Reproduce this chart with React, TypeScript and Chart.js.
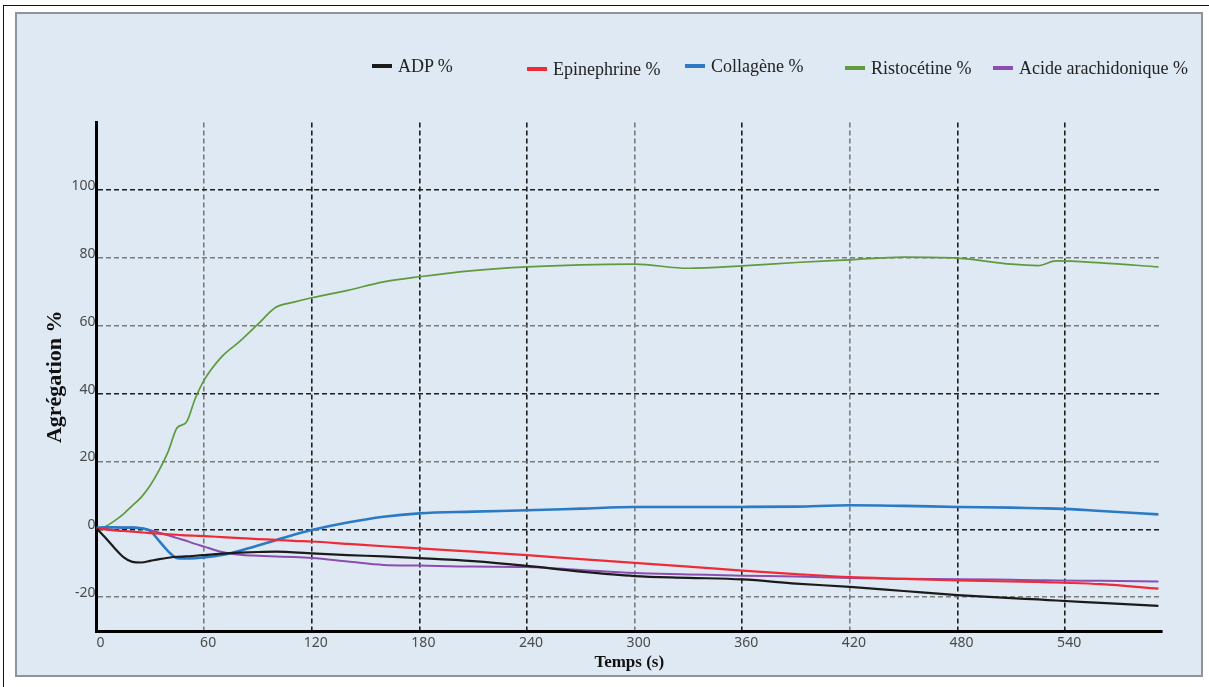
import React, { useEffect, useRef } from "react";
import { Chart, registerables } from "chart.js";

Chart.register(...registerables);

// ---- data ----
const timeS = [0, 5, 10, 15, 20, 25, 30, 35, 40, 45, 50, 55, 60, 70, 80, 90, 100, 110, 120, 140, 160, 180, 210, 240, 270, 300, 330, 360, 390, 420, 450, 480, 510, 525, 535, 560, 592];

const adpPct = [0.3, -2.5, -5.5, -8.2, -9.6, -9.8, -9.3, -8.8, -8.4, -8.1, -8.0, -7.8, -7.6, -7.2, -6.9, -6.7, -6.6, -6.8, -7.1, -7.6, -8.0, -8.5, -9.4, -10.8, -12.5, -13.8, -14.3, -14.8, -16.0, -17.0, -18.2, -19.4, -20.3, -20.7, -21.0, -21.7, -22.6];

const epinephrinePct = [0.3, 0.0, -0.3, -0.5, -0.7, -0.9, -1.1, -1.3, -1.5, -1.6, -1.8, -1.9, -2.0, -2.3, -2.6, -2.9, -3.1, -3.4, -3.6, -4.3, -5.0, -5.6, -6.6, -7.6, -8.8, -9.9, -11.0, -12.2, -13.2, -14.1, -14.6, -15.1, -15.4, -15.5, -15.7, -16.2, -17.5];

const collagenePct = [0.5, 0.6, 0.6, 0.5, 0.5, 0.3, -0.5, -3.5, -6.5, -8.5, -8.6, -8.5, -8.3, -7.6, -6.3, -4.8, -3.2, -1.6, -0.2, 2.0, 3.7, 4.7, 5.2, 5.6, 6.1, 6.6, 6.6, 6.6, 6.7, 7.1, 6.9, 6.6, 6.4, 6.2, 6.1, 5.4, 4.4];

const ristocetinePct = [0, 0.8, 2.5, 4.5, 7, 9.5, 13, 17.5, 23, 30, 31.5, 38.5, 44, 51, 55.5, 60.5, 65.5, 67, 68.3, 70.5, 73, 74.5, 76.3, 77.4, 78.0, 78.2, 77.0, 77.7, 78.7, 79.5, 80.3, 80.0, 78.2, 77.8, 79.2, 78.6, 77.4];

const acidePct = [0.3, 0.4, 0.5, 0.5, 0.5, 0.3, -0.3, -1.0, -1.8, -2.6, -3.4, -4.3, -5.1, -6.7, -7.5, -7.8, -8.0, -8.2, -8.5, -9.5, -10.5, -10.7, -11.0, -11.1, -12.0, -12.9, -13.3, -13.7, -13.9, -14.4, -14.6, -14.7, -14.9, -15.0, -15.1, -15.2, -15.4];

const seriesNames = ["ADP %", "Epinephrine %", "Collagène %", "Ristocétine %", "Acide arachidonique %"];
const seriesValues = [adpPct, epinephrinePct, collagenePct, ristocetinePct, acidePct];

const xTickValues = [0, 60, 120, 180, 240, 300, 360, 420, 480, 540];
const yTickValues = [-20, 0, 20, 40, 60, 80, 100];
const xRange = [0, 594];
const yRange = [-30, 120];

const xTitle = "Temps (s)";
const yTitle = "Agrégation %";

// ---- styles ----
const seriesColors = ["#1b1b1b", "#ee2b36", "#2b7bc4", "#5f9a3c", "#8b4eb0"];
const seriesWidths = [2.2, 2.2, 2.6, 1.7, 2];
const darkXGrid = [120, 180, 240, 360, 480, 540];
const darkYGrid = [0, 40, 100];
const legendSlots = [
  { left: 372, center: 66 },
  { left: 527, center: 69 },
  { left: 685, center: 66 },
  { left: 845, center: 68 },
  { left: 993, center: 68 },
];

export default function App() {
  const canvasRef = useRef<HTMLCanvasElement | null>(null);

  useEffect(() => {
    const canvas = canvasRef.current;
    if (!canvas) return;

    const datasets = seriesNames.map((name, si) => ({
      label: name,
      data: timeS.map((t, i) => ({ x: t, y: seriesValues[si][i] })),
      borderColor: seriesColors[si],
      backgroundColor: seriesColors[si],
      borderWidth: seriesWidths[si],
      pointRadius: 0,
      pointHoverRadius: 0,
      fill: false,
      tension: 0.4,
      cubicInterpolationMode: "monotone" as const,
    }));

    const chart = new Chart(canvas, {
      type: "line",
      data: { datasets },
      options: {
        animation: false,
        responsive: false,
        devicePixelRatio: 1,
        layout: { padding: { top: 110.5, right: 41, bottom: 0, left: 26.5 } },
        plugins: {
          legend: { display: false },
          tooltip: { enabled: false },
        },
        scales: {
          x: {
            type: "linear",
            min: xRange[0],
            max: xRange[1],
            afterBuildTicks: (axis: any) => {
              axis.ticks = xTickValues.map((v) => ({ value: v }));
            },
            afterFit: (axis: any) => {
              axis.height = 46;
            },
            grid: {
              drawTicks: false,
              lineWidth: 1.6,
              color: (ctx: any) => {
                const v = ctx.tick ? ctx.tick.value : null;
                if (v === 0) return "rgba(0,0,0,0)";
                return darkXGrid.includes(v) ? "#1e1e1e" : "#7c7c7c";
              },
            },
            border: { display: true, color: "#000", width: 3, dash: [5, 3] },
            ticks: {
              padding: 4,
              labelOffset: 4,
              color: "#4a4a4a",
              font: { family: "'Noto Sans', sans-serif", size: 14 },
              callback: (v: any) => String(v),
            },
            title: {
              display: true,
              text: xTitle,
              color: "#111",
              font: { family: "'Liberation Serif', serif", size: 17, weight: "bold" },
              padding: { top: 0, bottom: 4 },
            },
          },
          y: {
            type: "linear",
            min: yRange[0],
            max: yRange[1],
            afterBuildTicks: (axis: any) => {
              axis.ticks = yTickValues.map((v) => ({ value: v }));
            },
            afterFit: (axis: any) => {
              axis.width = 55;
            },
            grid: {
              drawTicks: false,
              lineWidth: 1.6,
              color: (ctx: any) => {
                const v = ctx.tick ? ctx.tick.value : null;
                return darkYGrid.includes(v) ? "#1e1e1e" : "#7c7c7c";
              },
            },
            border: { display: true, color: "#000", width: 3, dash: [5, 3] },
            ticks: {
              padding: 1,
              labelOffset: -4,
              color: "#4a4a4a",
              font: { family: "'Noto Sans', sans-serif", size: 14 },
              callback: (v: any) => String(v),
            },
            title: {
              display: true,
              text: yTitle,
              color: "#111",
              font: { family: "'Liberation Serif', serif", size: 22, weight: "bold" },
              padding: { top: 1, bottom: 0 },
            },
          },
        },
      },
    });

    return () => chart.destroy();
  }, []);

  return (
    <div
      style={{
        position: "fixed",
        left: 0,
        top: 0,
        width: 1209,
        height: 687,
        background: "#ffffff",
        overflow: "hidden",
      }}
    >
      <div
        style={{
          position: "absolute",
          left: 3,
          top: 5,
          width: 1220,
          height: 700,
          borderLeft: "1.5px solid #111",
          borderTop: "1.5px solid #111",
        }}
      />
      <div
        style={{
          position: "absolute",
          left: 15,
          top: 12,
          width: 1188,
          height: 665,
          boxSizing: "border-box",
          background: "#dee9f3",
          border: "2px solid #8e9499",
        }}
      />
      <canvas
        ref={canvasRef}
        width={1188}
        height={665}
        style={{ position: "absolute", left: 15, top: 12, width: 1188, height: 665 }}
      />
      {seriesNames.map((name, i) => (
        <div
          key={name}
          style={{
            position: "absolute",
            left: legendSlots[i].left,
            top: legendSlots[i].center - 11,
            height: 22,
            display: "flex",
            alignItems: "center",
            whiteSpace: "nowrap",
            fontFamily: "'Liberation Serif', serif",
            fontSize: 18,
            lineHeight: "22px",
            color: "#222",
          }}
        >
          <span
            style={{
              display: "inline-block",
              width: 20,
              height: 4,
              background: seriesColors[i],
              marginRight: 6,
            }}
          />
          <span>{name}</span>
        </div>
      ))}
    </div>
  );
}
